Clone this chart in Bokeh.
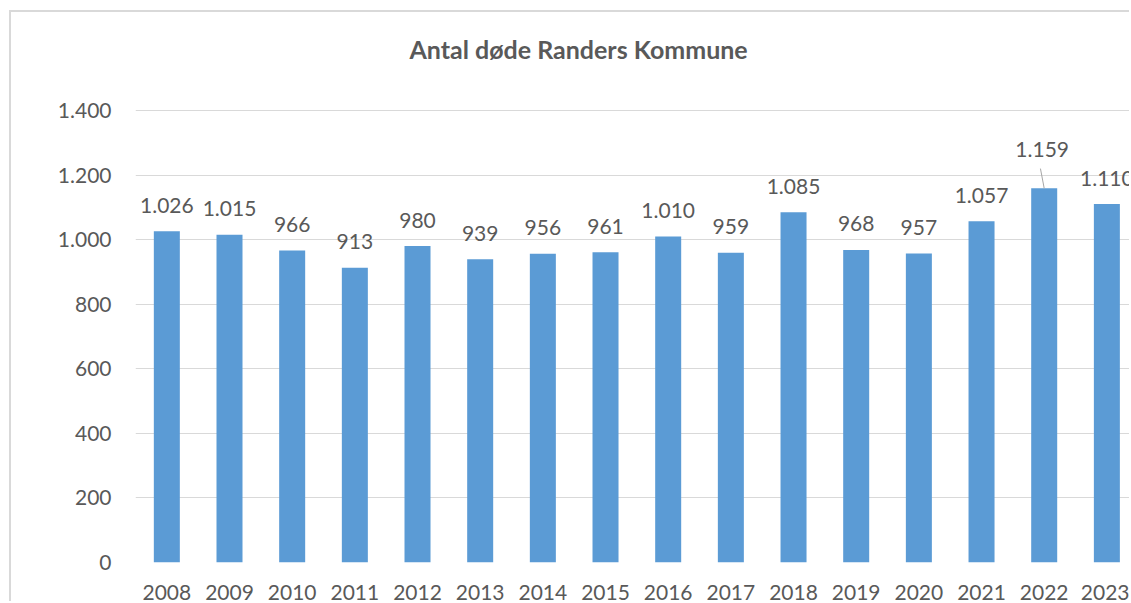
from bokeh.plotting import figure
from bokeh.models import ColumnDataSource, Range1d, FixedTicker
from bokeh.core.properties import value
from bokeh.embed import file_html
from bokeh.resources import INLINE

years = ["2008", "2009", "2010", "2011", "2012", "2013", "2014", "2015",
         "2016", "2017", "2018", "2019", "2020", "2021", "2022", "2023"]
deaths = [1026, 1015, 966, 913, 980, 939, 956, 961,
          1010, 959, 1085, 968, 957, 1057, 1159, 1110]
y_ticks = [0, 200, 400, 600, 800, 1000, 1200, 1400]
title_text = "Antal døde Randers Kommune"

FONT = "Lato"
GRAY = "#595959"
BLUE = "#5B9BD5"


def dk(v):
    return f"{v:,}".replace(",", ".")


idx = list(range(len(years)))
lifted = 14  # 2022 label is lifted with a leader line
yoff = [-39 if i == lifted else -26 for i in idx]
xoff = [-2 if i == lifted else 0 for i in idx]

src = ColumnDataSource(dict(x=idx, top=deaths, lab=[dk(v) for v in deaths],
                            yoff=yoff, xoff=xoff))

# canvas starts at (11, 12) on the page: 9/10px margin + 2px border
W, H = 1120, 591
p = figure(width=W, height=H, output_backend="svg", toolbar_location=None,
           x_range=Range1d(-0.5, 15.393), y_range=Range1d(0, 1703.5),
           min_border_left=124, min_border_right=0, min_border_top=0,
           min_border_bottom=41)
p.styles = {"margin-left": "9px", "margin-top": "10px",
            "border-left": "2px solid #D9D9D9", "border-top": "2px solid #D9D9D9"}
p.outline_line_color = None
p.background_fill_color = "white"
p.border_fill_color = "white"

p.vbar(x="x", top="top", bottom=0, width=0.415, source=src,
       fill_color=BLUE, line_color=None)

p.text(x="x", y="top", text="lab", source=src, x_offset="xoff", y_offset="yoff",
       text_align="center", text_baseline="alphabetic",
       text_font=value(FONT), text_font_size="21px", text_color=GRAY)

# leader line for lifted label
lv = deaths[lifted]
p.segment(x0=[lifted], y0=[lv], x1=[lifted - 0.06], y1=[lv + 61],
          line_color="#A6A6A6", line_width=1)

# chart title
p.text(x=[6.57], y=[1590], text=[title_text], text_align="center",
       text_baseline="alphabetic", text_font=value(FONT),
       text_font_size="25px", text_font_style="bold", text_color=GRAY)

p.xgrid.visible = False
p.ygrid.grid_line_color = "#D9D9D9"
p.ygrid.grid_line_width = 1
p.ygrid.ticker = FixedTicker(ticks=y_ticks)

for ax in (p.xaxis[0], p.yaxis[0]):
    ax.axis_line_color = None
    ax.major_tick_line_color = None
    ax.minor_tick_line_color = None
    ax.major_tick_in = 0
    ax.major_tick_out = 0
    ax.major_label_text_font = FONT
    ax.major_label_text_font_size = "21px"
    ax.major_label_text_color = GRAY

p.xaxis.ticker = FixedTicker(ticks=idx)
p.xaxis.major_label_overrides = {i: y for i, y in zip(idx, years)}
p.xaxis.major_label_standoff = 22
p.xaxis.major_label_text_line_height = 0.8
p.yaxis.ticker = FixedTicker(ticks=y_ticks)
p.yaxis.major_label_overrides = {t: dk(t) for t in y_ticks}
p.yaxis.major_label_standoff = 24

open("out.html", "w").write(file_html(p, INLINE))
